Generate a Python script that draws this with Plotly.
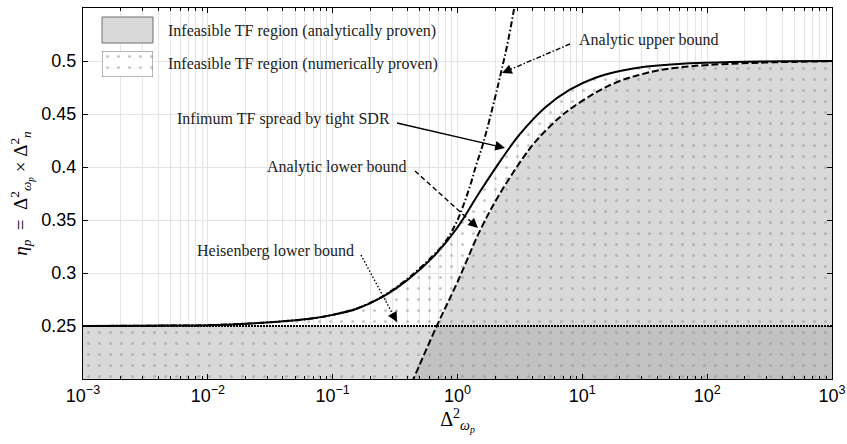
import plotly.graph_objects as go
import numpy as np

# ---------------- data ----------------
x_tick_vals = [1e-3, 1e-2, 1e-1, 1e0, 1e1, 1e2, 1e3]
x_tick_text = ["10<sup>−3</sup>", "10<sup>−2</sup>", "10<sup>−1</sup>", "10<sup>0</sup>",
               "10<sup>1</sup>", "10<sup>2</sup>", "10<sup>3</sup>"]
y_tick_vals = [0.25, 0.3, 0.35, 0.4, 0.45, 0.5]
y_tick_text = ["0.25", "0.3", "0.35", "0.4", "0.45", "0.5"]

# Infimum TF spread by tight SDR (solid)
sdr_x = [0.001, 0.00316, 0.01, 0.0316, 0.0398, 0.0631, 0.1, 0.158, 0.251, 0.398, 0.631,
         1.0, 1.48, 2.24, 3.16, 5.01, 7.94, 12.6, 20.0, 31.6, 63.1, 158, 398, 1000]
sdr_y = [0.2500, 0.2503, 0.2508, 0.2535, 0.2545, 0.2565, 0.2605, 0.2665, 0.2775, 0.2935,
         0.3145, 0.3430, 0.3750, 0.4070, 0.4310, 0.4560, 0.4730, 0.4840, 0.4905, 0.4945,
         0.4975, 0.4990, 0.4997, 0.5000]

# Analytic lower bound (dashed)
lower_x = [0.40, 0.4436, 0.682, 1.0, 1.514, 2.188, 3.715, 4.571, 6.607, 8.511, 12.3,
           15.85, 22.9, 28.8, 41.7, 77.6, 263, 1000]
lower_y = [0.188, 0.200, 0.250, 0.2915, 0.340, 0.375, 0.416, 0.4286, 0.447, 0.457, 0.469,
           0.476, 0.4837, 0.487, 0.4915, 0.4953, 0.4984, 0.4998]

# Analytic upper bound (dash-dot)
upper_x = [0.001, 0.00316, 0.01, 0.0316, 0.0398, 0.0631, 0.1, 0.158, 0.251, 0.398, 0.631,
           0.794, 1.0, 1.259, 1.413, 1.585, 1.995, 2.239, 2.512, 2.818, 3.162, 3.981]
upper_y = [0.2500, 0.2503, 0.2508, 0.2535, 0.2545, 0.2565, 0.2605, 0.2668, 0.2780, 0.2945,
           0.3160, 0.3290, 0.3500, 0.3820, 0.4020, 0.4200, 0.4650, 0.4900, 0.5160, 0.5470,
           0.5800, 0.6550]

# Heisenberg lower bound
heis_x = [1e-3, 1e3]
heis_y = [0.25, 0.25]

labels = {
    "upper": "Analytic upper bound",
    "sdr": "Infimum TF spread by tight SDR",
    "lower": "Analytic lower bound",
    "heis": "Heisenberg lower bound",
    "leg1": "Infeasible TF region (analytically proven)",
    "leg2": "Infeasible TF region (numerically proven)",
}

# ---------------- figure ----------------
W, H = 847, 444
L, R, T, B = 83, 15, 8, 65
PW, PH = W - L - R, H - T - B


def px2paper(px, py):
    return (px - L) / PW, (T + PH - py) / PH


SERIF = "Liberation Serif, Times New Roman, DejaVu Serif, serif"
SANS = "Liberation Sans, Arial, Helvetica, sans-serif"
LIGHT = "#d9d9d9"
DARK = "#c2c2c2"
DOTS = dict(shape=".", size=11, solidity=0.06, fgcolor="#8f8f8f", bgcolor="rgba(0,0,0,0)")

fig = go.Figure()

# analytically proven: below Heisenberg bound
fig.add_trace(go.Scatter(x=heis_x, y=heis_y, mode="lines", line=dict(width=0),
                         fill="tozeroy", fillcolor=LIGHT, hoverinfo="skip", showlegend=False))
# analytically proven: below analytic lower bound
fig.add_trace(go.Scatter(x=lower_x, y=lower_y, mode="lines", line=dict(width=0),
                         fill="tozeroy", fillcolor=LIGHT, hoverinfo="skip", showlegend=False))
# overlap of both analytic regions
overlap_y = list(np.minimum(np.array(lower_y), heis_y[0]))
fig.add_trace(go.Scatter(x=lower_x, y=overlap_y, mode="lines", line=dict(width=0),
                         fill="tozeroy", fillcolor=DARK, hoverinfo="skip", showlegend=False))
# numerically proven: below SDR infimum (dotted)
fig.add_trace(go.Scatter(x=sdr_x, y=sdr_y, mode="lines", line=dict(width=0),
                         fill="tozeroy", fillcolor="rgba(0,0,0,0)", fillpattern=DOTS,
                         hoverinfo="skip", showlegend=False))

# curves
fig.add_trace(go.Scatter(x=heis_x, y=heis_y, mode="lines",
                         line=dict(color="black", width=2.2, dash="2px,1px"), showlegend=False))
fig.add_trace(go.Scatter(x=lower_x, y=lower_y, mode="lines", line_shape="spline",
                         line=dict(color="black", width=2, dash="7px,3px"), showlegend=False))
fig.add_trace(go.Scatter(x=upper_x, y=upper_y, mode="lines", line_shape="spline",
                         line=dict(color="black", width=2, dash="6px,2.5px,1.5px,2.5px"),
                         showlegend=False))
fig.add_trace(go.Scatter(x=sdr_x, y=sdr_y, mode="lines", line_shape="spline",
                         line=dict(color="black", width=2), showlegend=False))

# legend swatch (dotted) on auxiliary axes
sw_x0, sw_y0 = px2paper(102, 77)
sw_x1, sw_y1 = px2paper(153, 51)
fig.add_trace(go.Scatter(x=[0, 1, 1, 0, 0], y=[0, 0, 1, 1, 0], xaxis="x2", yaxis="y2",
                         mode="lines", line=dict(color="#6e6e6e", width=1), fill="toself",
                         fillcolor="rgba(0,0,0,0)",
                         fillpattern=dict(DOTS, bgcolor="white"),
                         hoverinfo="skip", showlegend=False))

shapes = []
annotations = []

# legend background & first swatch
lb_x0, lb_y0 = px2paper(98, 84)
lb_x1, lb_y1 = px2paper(442, 13)
shapes.append(dict(type="rect", xref="paper", yref="paper", x0=lb_x0, x1=lb_x1, y0=lb_y0, y1=lb_y1,
                   fillcolor="white", line=dict(width=0), layer="between"))
s1x0, s1y0 = px2paper(102, 43)
s1x1, s1y1 = px2paper(153, 17)
shapes.append(dict(type="rect", xref="paper", yref="paper", x0=s1x0, x1=s1x1, y0=s1y0, y1=s1y1,
                   fillcolor=LIGHT, line=dict(color="#6e6e6e", width=1), layer="above"))
for key, py in (("leg1", 31), ("leg2", 64)):
    ax_, ay_ = px2paper(166, py)
    annotations.append(dict(xref="paper", yref="paper", x=ax_, y=ay_, xanchor="left",
                            yanchor="middle", text=labels[key], showarrow=False,
                            font=dict(family=SERIF, size=16, color="#222222")))

# labelled arrows: (label key, text anchor px, anchor side, start px, tip px, dash)
arrows = [
    ("upper", (577, 40), "left", (570, 44), (502, 73), "5px,2px,1.5px,2px"),
    ("sdr", (392, 119), "right", (397, 123), (505, 148), "solid"),
    ("lower", (409, 167), "right", (415, 171), (478, 228), "5px,3px"),
    ("heis", (356, 251), "right", (361, 255), (397, 322), "1.5px,2px"),
]
for key, (tx, ty), side, (sx, sy), (ex, ey), dash in arrows:
    px_, py_ = px2paper(tx, ty)
    annotations.append(dict(xref="paper", yref="paper", x=px_, y=py_, xanchor=side,
                            yanchor="middle", text=labels[key], showarrow=False,
                            font=dict(family=SERIF, size=16, color="#222222")))
    dx, dy = sx - ex, sy - ey
    n = (dx * dx + dy * dy) ** 0.5
    ux, uy = dx / n, dy / n
    x0p, y0p = px2paper(sx, sy)
    x1p, y1p = px2paper(ex + ux * 6, ey + uy * 6)
    shapes.append(dict(type="line", xref="paper", yref="paper", x0=x0p, y0=y0p, x1=x1p, y1=y1p,
                       line=dict(color="black", width=1.4, dash=dash), layer="above"))
    tpx, tpy = px2paper(ex, ey)
    annotations.append(dict(xref="paper", yref="paper", x=tpx, y=tpy, text="", showarrow=True,
                            arrowhead=2, arrowsize=1.4, arrowwidth=1.4, arrowcolor="black",
                            ax=ux * 9, ay=uy * 9, standoff=0))

fig.update_layout(
    width=W, height=H,
    margin=dict(l=L, r=R, t=T, b=B, autoexpand=False),
    plot_bgcolor="white", paper_bgcolor="white",
    showlegend=False,
    shapes=shapes, annotations=annotations,
    xaxis=dict(type="log", range=[-3, 3], tickmode="array", tickvals=x_tick_vals,
               ticktext=x_tick_text, ticks="inside", ticklen=5, tickcolor="black",
               showline=True, linecolor="black", linewidth=1, mirror="ticks",
               showgrid=True, gridcolor="#e4e4e4", gridwidth=1, zeroline=False,
               automargin=False,
               minor=dict(dtick="D1", ticks="inside", ticklen=3, tickcolor="black",
                          showgrid=True, gridcolor="#e4e4e4", gridwidth=1),
               tickfont=dict(family=SANS, size=18, color="black"),
               title=dict(text="Δ<sup>2</sup><sub><i>ω<sub>p</sub></i></sub>",
                          font=dict(family=SERIF, size=20, color="black"), standoff=6)),
    yaxis=dict(range=[0.2, 0.55], tickmode="array", tickvals=y_tick_vals, ticktext=y_tick_text,
               ticks="inside", ticklen=5, tickcolor="black",
               showline=True, linecolor="black", linewidth=1, mirror="ticks",
               showgrid=True, gridcolor="#e4e4e4", gridwidth=1, zeroline=False,
               automargin=False,
               tickfont=dict(family=SANS, size=18, color="black"), ticklabelstandoff=2,
               title=dict(text="<i>η<sub>p</sub></i>  =  Δ<sup>2</sup><sub><i>ω<sub>p</sub></i></sub> × Δ<sup>2</sup><sub><i>n</i></sub>",
                          font=dict(family=SERIF, size=19, color="black"), standoff=8)),
    xaxis2=dict(domain=[sw_x0, sw_x1], range=[0, 1], visible=False, anchor="y2"),
    yaxis2=dict(domain=[sw_y0, sw_y1], range=[0, 1], visible=False, anchor="x2"),
)

fig.write_html("out.html")
